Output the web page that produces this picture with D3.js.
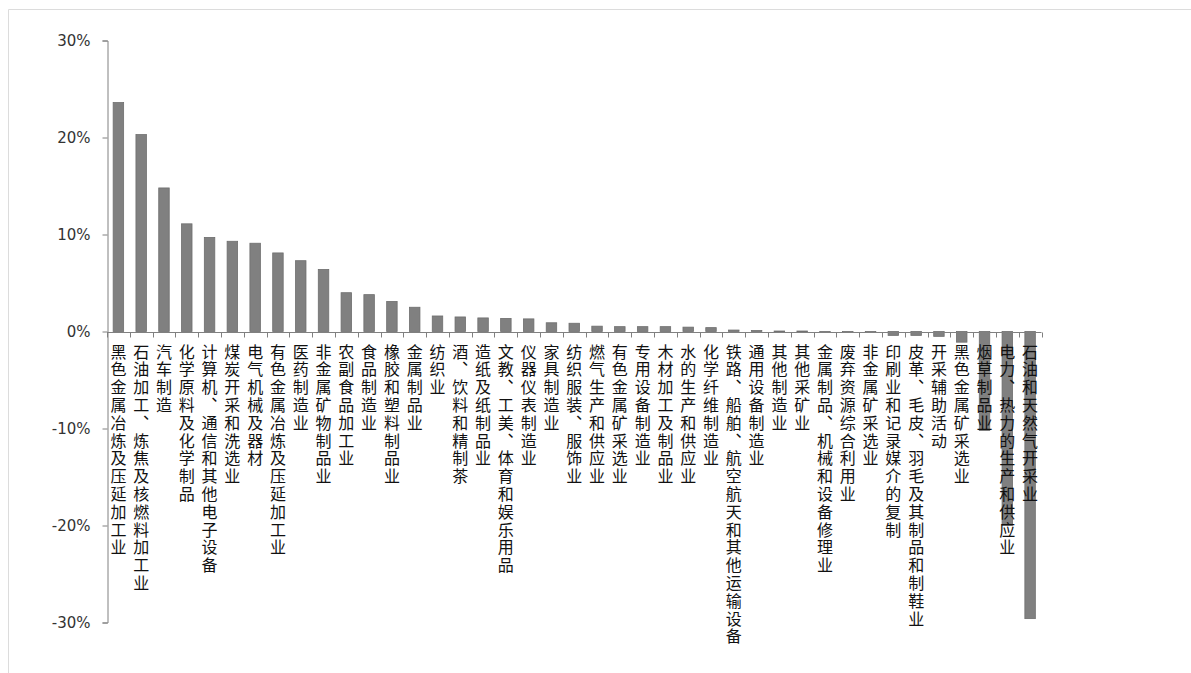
<!DOCTYPE html>
<html>
<head>
<meta charset="utf-8">
<script src="https://cdn.jsdelivr.net/npm/d3@7"></script>
<style>
  html, body { margin: 0; padding: 0; background: #fff; }
  svg { display: block; }
  .cat { font-family: "Noto Sans CJK SC", sans-serif; font-size: 16px; fill: #111;
         writing-mode: vertical-rl; text-orientation: upright; letter-spacing: 1.8px; }
  .ytick text { font-family: "DejaVu Sans", sans-serif; font-size: 15px; fill: #333; }
</style>
</head>
<body>
<div id="chart"></div>
<script>
// industries, sorted by growth
const categories = [
  "黑色金属冶炼及压延加工业", "石油加工、炼焦及核燃料加工业", "汽车制造", "化学原料及化学制品",
  "计算机、通信和其他电子设备", "煤炭开采和洗选业", "电气机械及器材", "有色金属冶炼及压延加工业",
  "医药制造业", "非金属矿物制品业", "农副食品加工业", "食品制造业", "橡胶和塑料制品业",
  "金属制品业", "纺织业", "酒、饮料和精制茶", "造纸及纸制品业", "文教、工美、体育和娱乐用品",
  "仪器仪表制造业", "家具制造业", "纺织服装、服饰业", "燃气生产和供应业", "有色金属矿采选业",
  "专用设备制造业", "木材加工及制品业", "水的生产和供应业", "化学纤维制造业",
  "铁路、船舶、航空航天和其他运输设备", "通用设备制造业", "其他制造业", "其他采矿业",
  "金属制品、机械和设备修理业", "废弃资源综合利用业", "非金属矿采选业", "印刷业和记录媒介的复制",
  "皮革、毛皮、羽毛及其制品和制鞋业", "开采辅助活动", "黑色金属矿采选业", "烟草制品业",
  "电力、热力的生产和供应业", "石油和天然气开采业"
];
// growth, in %
const values = [
  23.6, 20.3, 14.8, 11.1, 9.7, 9.3, 9.1, 8.1, 7.3, 6.4, 4.0, 3.8, 3.1,
  2.5, 1.6, 1.5, 1.4, 1.35, 1.3, 0.9, 0.85, 0.55, 0.5, 0.5, 0.5, 0.45, 0.4,
  0.15, 0.1, 0.05, 0.05, -0.05, -0.1, -0.1, -0.4, -0.4, -0.5, -1.1, -10.2,
  -20.0, -29.6
];
const yTicks = [-30, -20, -10, 0, 10, 20, 30];

const width = 1191, height = 673;
const margin = { top: 40, left: 107, right: 150, bottom: 50 };

const svg = d3.select("#chart").append("svg")
  .attr("width", width)
  .attr("height", height);

// light frame round the chart area
svg.append("path")
  .attr("d", "M8.5," + height + "V9.5H" + width)
  .attr("fill", "none")
  .attr("stroke", "#dcdcdc");

const x = d3.scaleBand()
  .domain(categories)
  .range([margin.left, 1041.5])
  .paddingInner(0.54)
  .paddingOuter(0.27);

const y = d3.scaleLinear()
  .domain([-30, 30])
  .range([622.5, 40.5]);

// y axis
const yAxis = d3.axisLeft(y)
  .tickValues(yTicks)
  .tickFormat(d => d + "%")
  .tickSize(5)
  .tickPadding(12);

const gy = svg.append("g")
  .attr("class", "ytick")
  .attr("transform", "translate(" + (margin.left + 0.5) + ",0)")
  .call(yAxis);
gy.select(".domain").attr("stroke", "#808080");
gy.selectAll(".tick line").attr("stroke", "#808080");

// bars
svg.append("g")
  .selectAll("rect")
  .data(values)
  .join("rect")
  .attr("x", (d, i) => x(categories[i]))
  .attr("width", x.bandwidth())
  .attr("y", d => y(Math.max(0, d)))
  .attr("height", d => Math.max(1, Math.abs(y(d) - y(0))))
  .attr("fill", "#808080")
  .attr("stroke", "#6e6e6e")
  .attr("stroke-width", 0.8);

// x axis line at zero, ticks between categories
const step = x.step();
const boundaries = d3.range(categories.length + 1).map(i => margin.left + i * step);
const gx = svg.append("g");
gx.append("line")
  .attr("x1", margin.left).attr("x2", margin.left + categories.length * step)
  .attr("y1", Math.round(y(0)) + 0.5).attr("y2", Math.round(y(0)) + 0.5)
  .attr("stroke", "#808080");
gx.selectAll(".xt")
  .data(boundaries)
  .join("line")
  .attr("x1", d => Math.round(d) + 0.5).attr("x2", d => Math.round(d) + 0.5)
  .attr("y1", Math.round(y(0)) + 0.5).attr("y2", Math.round(y(0)) + 5.5)
  .attr("stroke", "#808080");

// vertical category labels
svg.append("g")
  .selectAll("text")
  .data(categories)
  .join("text")
  .attr("class", "cat")
  .attr("x", d => x(d) + x.bandwidth() / 2)
  .attr("y", y(0) + 12)
  .text(d => d);
</script>
</body>
</html>
